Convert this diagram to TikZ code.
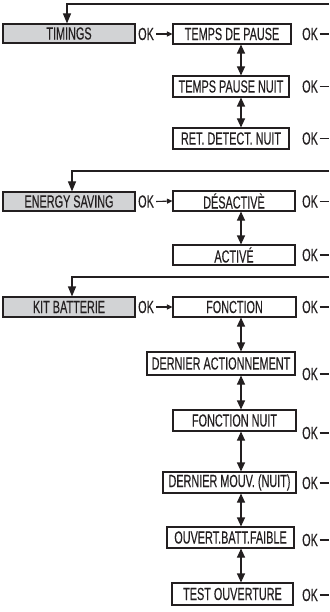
\documentclass[tikz,border=0pt]{standalone}
\usepackage{fontspec}
\setmainfont{Liberation Sans}[FakeStretch=0.62, FakeBold=0.25]
\usetikzlibrary{arrows.meta}
\definecolor{ink}{HTML}{231F20}
\definecolor{menugray}{HTML}{D2D3D5}
\begin{document}
\begin{tikzpicture}[x=1pt,y=-1pt,
  every node/.style={font=\fontsize{17.5}{18}\selectfont, text=ink, inner sep=0pt},
  menu/.style={draw=ink, line width=1.1pt, fill=menugray, minimum width=132pt, minimum height=19pt},
  item/.style={draw=ink, line width=1.1pt, fill=white, minimum height=20pt},
  ok/.style={anchor=west},
  wire/.style={draw=ink, line width=1.1pt},
  nav/.style={wire, {Triangle[width=8pt,length=9pt]}-{Triangle[width=8pt,length=9pt]}},
  into/.style={wire, -{Triangle[width=8pt,length=10pt]}},
  okarrow/.style={wire, -{Triangle[width=5pt,length=5.5pt]}},
]
\useasboundingbox (0,0) rectangle (329,612);
\coordinate (nx) at (241,0);

% ---------- TIMINGS ----------
\coordinate (r1) at (329,4);
\coordinate (k1) at (67,4);
\node[menu] (tim) at (69,33.5) {TIMINGS};
\node[item, minimum width=118pt] (tdp) at (232,34) {TEMPS DE PAUSE};
\node[item, minimum width=116pt, minimum height=21pt] (tpn) at (231,86.5) {TEMPS PAUSE NUIT};
\node[item, minimum width=116pt, minimum height=21pt] (rdn) at (231,138.5) {RET. DETECT. NUIT};
\draw[into] (r1) -- (k1) -- (k1 |- tim.north);
\node[ok] (okt) at (138,34) {OK};
\draw[okarrow] ([xshift=2pt]okt.east) -- (tdp.west);
\draw[nav] (nx |- tdp.south) -- (nx |- tpn.north);
\draw[nav] (nx |- tpn.south) -- (nx |- rdn.north);

\node[ok] (o1) at (302,34) {OK};
\node[ok] (o2) at (302,86.5) {OK};
\node[ok] (o3) at (302,138.5) {OK};

% ---------- ENERGY SAVING ----------
\coordinate (r2) at (329,171);
\coordinate (k2) at (72,171);
\node[menu] (eng) at (69,201.5) {ENERGY SAVING};
\node[item, minimum width=122pt] (des) at (234,201) {DÉSACTIVÈ};
\node[item, minimum width=122pt] (act) at (234,255) {ACTIVÉ};
\draw[into] (r2) -- (k2) -- (k2 |- eng.north);
\node[ok] (oke) at (138,201.5) {OK};
\draw[okarrow] ([xshift=2pt]oke.east) -- (des.west);
\draw[nav] (nx |- des.south) -- (nx |- act.north);

\node[ok] (o4) at (302,201.5) {OK};
\node[ok] (o5) at (302,255) {OK};

% ---------- KIT BATTERIE ----------
\coordinate (r3) at (329,277);
\coordinate (k3) at (72,277);
\node[menu, minimum height=20pt] (kit) at (69,307) {KIT BATTERIE};
\node[item, minimum width=123pt] (fon) at (234.5,307) {FONCTION};
\node[item, minimum width=148pt, minimum height=23pt] (dac) at (221,363.5) {DERNIER ACTIONNEMENT};
\node[item, minimum width=123pt, minimum height=21pt] (fnu) at (234.5,420.5) {FONCTION NUIT};
\node[item, minimum width=133pt, minimum height=21pt] (dmn) at (229.5,482.5) {DERNIER MOUV. (NUIT)};
\node[item, minimum width=127pt, minimum height=21pt] (obf) at (230.5,537.5) {OUVERT.BATT.FAIBLE};
\node[item, minimum width=121pt, minimum height=22pt] (tou) at (232.5,594) {TEST OUVERTURE};
\draw[into] (r3) -- (k3) -- (k3 |- kit.north);
\node[ok] (okk) at (138,307) {OK};
\draw[okarrow] ([xshift=2pt]okk.east) -- (fon.west);
\draw[nav] (nx |- fon.south) -- (nx |- dac.north);
\draw[nav] (nx |- dac.south) -- (nx |- fnu.north);
\draw[nav] (nx |- fnu.south) -- (nx |- dmn.north);
\draw[nav] (nx |- dmn.south) -- (nx |- obf.north);
\draw[nav] (nx |- obf.south) -- (nx |- tou.north);

\node[ok] (o6) at (302,307) {OK};
\node[ok] (o7) at (302,374) {OK};
\node[ok] (o8) at (302,433) {OK};
\node[ok] (o9) at (302,483) {OK};
\node[ok] (o10) at (302,540) {OK};
\node[ok] (o11) at (302,595) {OK};

% return stubs running off to the right edge
\foreach \o in {o1,o2,o3,o4,o5,o6,o7,o8,o9,o10,o11}{
  \coordinate (\o e) at (329,0);
  \draw[wire] ([xshift=1.5pt]\o.east) -- (\o e |- \o.east);
}
\end{tikzpicture}
\end{document}
